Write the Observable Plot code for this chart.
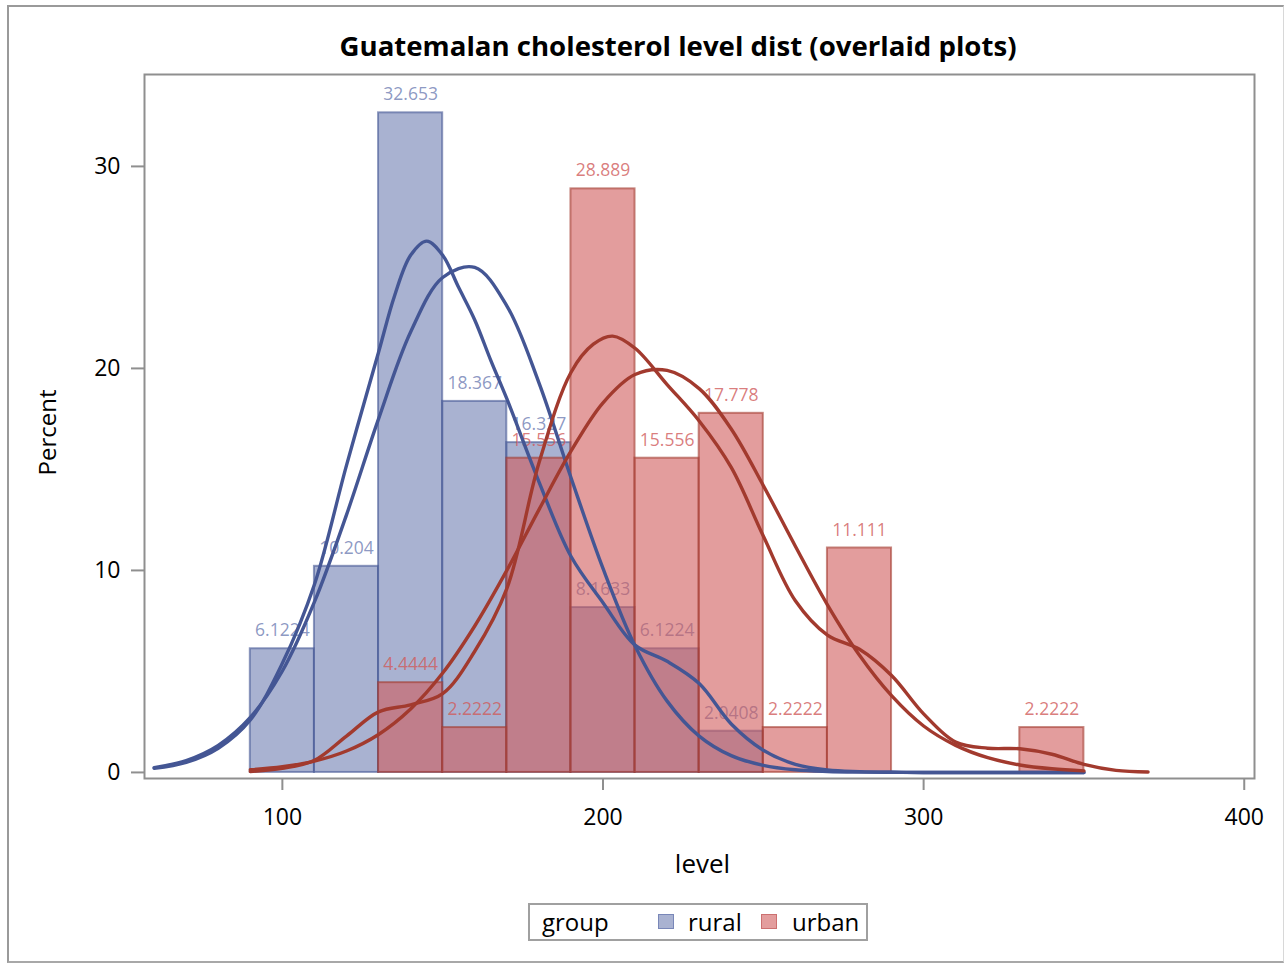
<!DOCTYPE html>
<html>
<head>
<meta charset="utf-8">
<script src="https://cdn.jsdelivr.net/npm/d3@7"></script>
<script src="https://cdn.jsdelivr.net/npm/@observablehq/plot@0.6"></script>
<style>
  html, body { margin: 0; padding: 0; background: #fff; }
  body { font-family: "Open Sans", "Noto Sans", sans-serif; }
  #wrap { position: relative; width: 1285px; height: 964px; overflow: hidden; }
  #outer { position: absolute; left: 7px; top: 5px; width: 1277px; height: 958px; box-sizing: border-box;
           border-top: 2px solid #9a9a9a; border-left: 2px solid #9a9a9a; border-right: 1px solid #d8d8d8; border-bottom: 2px solid #a8a8a8; }
  #chart { position: absolute; left: 0; top: 0; }
  #title { position: absolute; left: 678px; top: 32px; font-size: 27px; line-height: 27px; font-weight: 700;
           white-space: nowrap; color: #000; transform-origin: 0 50%; }
  #legend { position: absolute; left: 528px; top: 903px; width: 340px; height: 38px; box-sizing: border-box;
            border: 2px solid #a0a0a0; background: #fff; }
  .lg { position: absolute; font-size: 24px; line-height: 24px; white-space: nowrap; color: #000; }
  .sw { position: absolute; width: 16px; height: 15px; box-sizing: border-box; }
</style>
</head>
<body>
<div id="wrap">
  <div id="outer"></div>
  <div id="chart"></div>
  <div id="title">Guatemalan cholesterol level dist (overlaid plots)</div>
  <div id="legend"></div>
</div>
<script>
// ---- data ----
const binWidth = 20;
const groups = ["rural", "urban"];
const ruralBinStart = [90, 110, 130, 150, 170, 190, 210, 230];
const ruralPercent  = [6.1224, 10.204, 32.653, 18.367, 16.327, 8.1633, 6.1224, 2.0408];
const urbanBinStart = [130, 150, 170, 190, 210, 230, 250, 270, 330];
const urbanPercent  = [4.4444, 2.2222, 15.556, 28.889, 15.556, 17.778, 2.2222, 11.111, 2.2222];

// density curves (percent per bin width)
const ruralNormalX = [60,70,80,90,100,110,120,130,140,150,160,170,180,190,200,210,220,230,240,250,260,270,280,290,300,310,320,330,340,350];
const ruralNormalY = [0.24,0.59,1.34,2.72,5.02,8.44,12.75,17.5,21.8,24.5,25.0,23.1,19.3,14.6,10.1,6.26,3.53,1.80,0.83,0.35,0.13,0.05,0.02,0.01,0,0,0,0,0,0];
const ruralKernelX = [60,70,80,90,100,110,120,130,135,140,145,150,155,160,165,170,180,190,200,210,220,230,240,250,260,270,280,290,300,350];
const ruralKernelY = [0.2,0.5,1.2,2.6,5.4,9.3,15.2,20.8,23.6,25.6,26.3,25.6,24.0,22.4,20.4,18.5,14.4,10.7,8.4,6.3,5.5,4.4,2.4,1.1,0.4,0.12,0.04,0.01,0,0];
const urbanNormalX = [90,100,110,120,130,140,150,160,170,180,190,200,210,220,230,240,250,260,270,280,290,300,310,320,330,340,350];
const urbanNormalY = [0.13,0.28,0.56,1.06,1.88,3.14,4.92,7.25,10.0,13.0,15.9,18.3,19.7,19.9,19.0,17.0,14.2,11.2,8.3,5.8,3.8,2.3,1.34,0.73,0.37,0.18,0.08];
const urbanKernelX = [90,100,110,120,130,140,150,160,170,180,190,197,203,210,220,230,240,250,260,270,280,290,300,310,320,330,340,350,360,370];
const urbanKernelY = [0.05,0.2,0.6,1.8,3.0,3.35,3.9,6.0,9.1,15.3,19.8,21.2,21.6,21.0,19.2,17.4,15.1,11.7,8.5,6.8,6.1,4.8,2.9,1.5,1.2,1.17,0.9,0.4,0.1,0.02];

const xTicks = [100, 200, 300, 400];
const yTicks = [0, 10, 20, 30];

// ---- styles ----
const colors = {
  rural: {fill: "#6F7EB3", line: "#445694"},
  urban: {fill: "#D05B5B", line: "#A23A2E"}
};

const bins = (starts, vals, g) => starts.map((s, i) => ({group: g, x1: s, x2: s + binWidth, v: vals[i]}));
const ruralBins = bins(ruralBinStart, ruralPercent, "rural");
const urbanBins = bins(urbanBinStart, urbanPercent, "urban");
const pts = (xs, ys) => xs.map((x, i) => ({x, y: ys[i]}));
const fmt = d3.format(".5g");

function barMarks(data, c) {
  return Plot.rect(data, {x1: "x1", x2: "x2", y1: 0, y2: "v",
    fill: c.fill, fillOpacity: 0.6, stroke: c.line, strokeOpacity: 0.6, strokeWidth: 2});
}
function labelMarks(data, c) {
  return Plot.text(data, {x: d => (d.x1 + d.x2) / 2, y: "v", text: d => fmt(d.v),
    fill: c.fill, fillOpacity: 0.8, fontSize: 17.5, lineAnchor: "middle", dy: -18});
}
function curve(data, c) {
  return Plot.line(data, {x: "x", y: "y", stroke: c.line, strokeWidth: 3.4, curve: "catmull-rom"});
}

const chart = Plot.plot({
  width: 1285,
  height: 964,
  marginLeft: 144,
  marginRight: 31,
  marginTop: 74,
  marginBottom: 186,
  style: {fontFamily: "'Open Sans', 'Noto Sans', sans-serif", fontSize: "22px", background: "transparent", overflow: "visible"},
  x: {domain: [57, 403.2]},
  y: {domain: [-0.3, 34.55]},
  marks: [
    barMarks(ruralBins, colors.rural),
    labelMarks(ruralBins, colors.rural),
    barMarks(urbanBins, colors.urban),
    labelMarks(urbanBins, colors.urban),
    curve(pts(ruralNormalX, ruralNormalY), colors.rural),
    curve(pts(ruralKernelX, ruralKernelY), colors.rural),
    curve(pts(urbanNormalX, urbanNormalY), colors.urban),
    curve(pts(urbanKernelX, urbanKernelY), colors.urban),
    Plot.frame({stroke: "#8f8f8f", strokeWidth: 2}),
    Plot.axisX({ticks: xTicks, tickSize: 12, tickPadding: 18, stroke: "#8f8f8f", strokeWidth: 2, fill: "#000", fontSize: 23, label: null}),
    Plot.axisY({ticks: yTicks, tickSize: 13, tickPadding: 11, stroke: "#8f8f8f", strokeWidth: 2, fill: "#000", fontSize: 23, label: null}),
    Plot.text(["level"], {frameAnchor: "bottom", lineAnchor: "middle", textAnchor: "middle", dx: 3, dy: 86, fontSize: 26, fill: "#000"}),
    Plot.text(["Percent"], {frameAnchor: "left", textAnchor: "middle", lineAnchor: "middle", dx: -96, dy: 6, rotate: -90, fontSize: 24, fill: "#000"})
  ]
});
document.getElementById("chart").appendChild(chart);

// title: fit to the reference width, centred at x = 678
const title = document.getElementById("title");
const tw = title.getBoundingClientRect().width;
const targetW = 677;
title.style.transform = `translateX(${-targetW / 2}px) scaleX(${targetW / tw})`;

// legend
const legend = document.getElementById("legend");
function addAbs(cls, left, top, text, style) {
  const el = document.createElement("div");
  el.className = cls;
  el.style.left = (left - 530) + "px";
  el.style.top = (top - 905) + "px";
  if (text) el.textContent = text;
  if (style) Object.assign(el.style, style);
  legend.appendChild(el);
  return el;
}
addAbs("lg", 542, 910, "group");
addAbs("sw", 658, 914, null, {background: "#a9b2d1", border: "1px solid #7987b8"});
addAbs("lg", 688, 910, groups[0]);
addAbs("sw", 761, 914, null, {background: "#e39d9d", border: "1px solid #cc7070"});
addAbs("lg", 792, 910, groups[1]);
</script>
</body>
</html>
